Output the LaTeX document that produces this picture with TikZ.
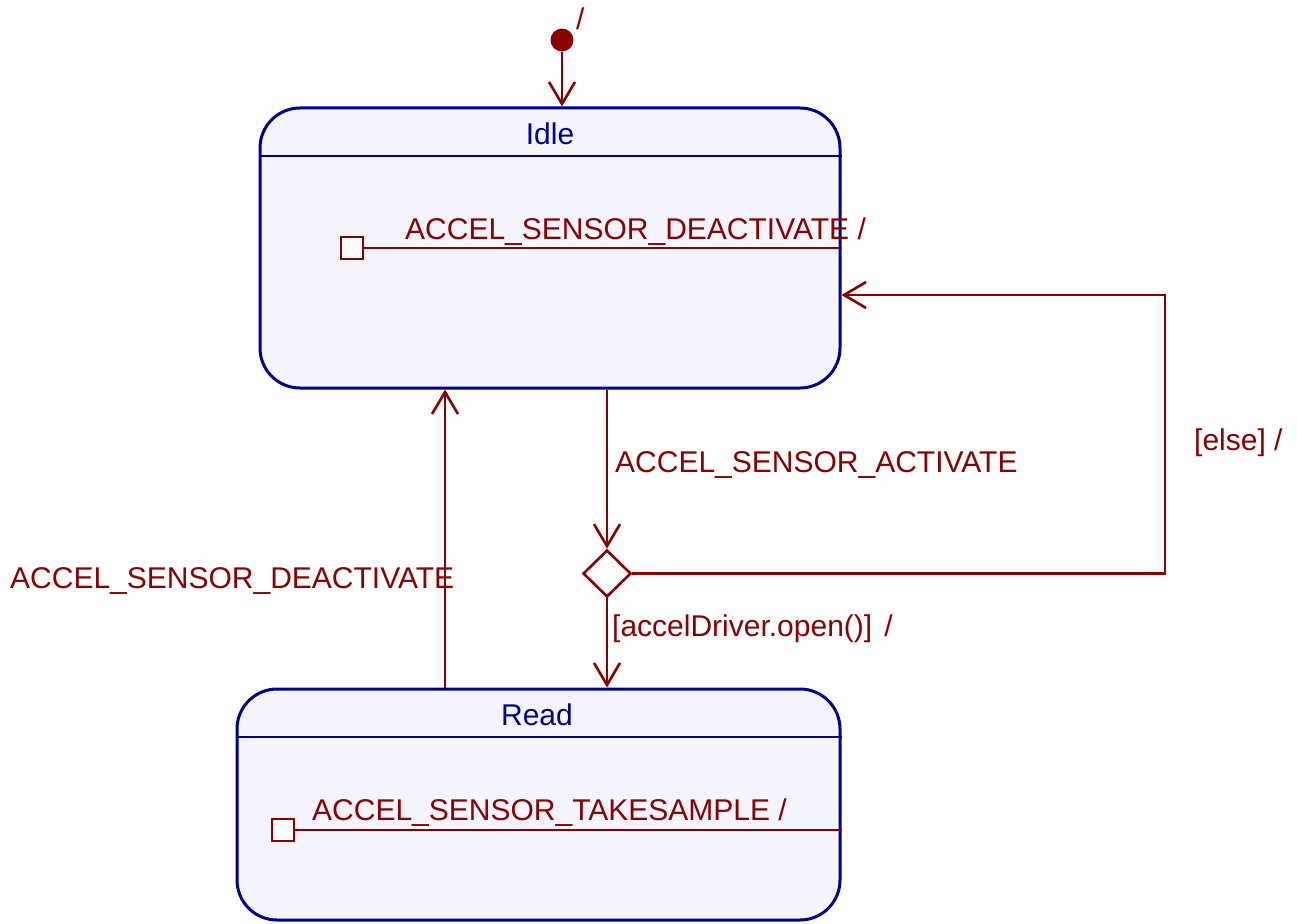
\documentclass[tikz,border=0pt]{standalone}
\usepackage{fontspec}
\setmainfont{Liberation Sans}
\usetikzlibrary{arrows.meta,shapes.geometric}
\definecolor{trred}{HTML}{8B0000}
\definecolor{stblue}{HTML}{000090}
\definecolor{stfill}{HTML}{F4F4FD}
\tikzset{
  state/.style={draw=stblue, fill=stfill, line width=3pt, rounded corners=40pt, inner sep=0pt},
  sep/.style={draw=stblue, line width=2.8pt},
  tr/.style={draw=trred, line width=2.6pt},
  tra/.style={tr, -{Straight Barb[length=22pt,width=26pt,line width=2.6pt]}},
  lbl/.style={text=trred, font=\fontsize{30}{31}\selectfont, inner sep=0pt, anchor=base west},
  ttl/.style={text=stblue, font=\fontsize{30}{31}\selectfont, inner sep=0pt, anchor=base},
  sq/.style={draw=trred, fill=white, line width=2.6pt, minimum size=22pt, inner sep=0pt},
  choice/.style={diamond, draw=trred, fill=white, line width=2.6pt, minimum width=48pt, minimum height=47pt, inner sep=0pt, aspect=1},
}
\begin{document}
\begin{tikzpicture}[x=1pt,y=-1pt]
\useasboundingbox (0,0) rectangle (1297,923);
% states
\node[state, minimum width=580pt, minimum height=280pt] (idle) at (550,248) {};
\node[state, minimum width=603pt, minimum height=231pt] (read) at (538.5,804.5) {};
\draw[sep] (idle.west |- 0,156) -- (idle.east |- 0,156);
\draw[sep] (read.west |- 0,737) -- (read.east |- 0,737);
\node[ttl] (idlet) at (550,144) {Idle};
\node[ttl] (readt) at (537,725) {Read};
% initial
\node[circle, fill=trred, minimum size=23pt, inner sep=0pt] (init) at (562,40) {};
\node[lbl] (initl) at (576,30) {/};
\draw[tra] (init) -- (idle.north -| init);
% internal transitions
\node[sq] (sq1) at (352,248) {};
\draw[tr] (sq1.east) -- (idle.east |- sq1);
\node[lbl] (l1) at (405,239) {ACCEL\_SENSOR\_DEACTIVATE /};
\node[sq] (sq2) at (283,830) {};
\draw[tr] (sq2.east) -- (read.east |- sq2);
\node[lbl] (l2) at (312,820) {ACCEL\_SENSOR\_TAKESAMPLE /};
% choice
\node[choice] (ch) at (607,573.5) {};
\draw[tra] (idle.south -| ch) -- (ch.north);
\node[lbl] (l3) at (615,472) {ACCEL\_SENSOR\_ACTIVATE};
\draw[tra] (ch.south) -- (read.north -| ch);
\node[lbl] (l4) at (612,636) {[accelDriver.open()]\hspace{12pt}/};
% else loop
\coordinate (c1) at (1165,573.5);
\coordinate (c2) at (1165,295);
\draw[tra] (ch.east) -- (c1) -- (c2) -- (idle.east |- c2);
\node[lbl] (l5) at (1194,450) {[else] /};
% read -> idle
\coordinate (c3) at (445,0);
\draw[tra] (read.north -| c3) -- (idle.south -| c3);
\node[lbl] (l6) at (10,588) {ACCEL\_SENSOR\_DEACTIVATE};
\end{tikzpicture}
\end{document}
